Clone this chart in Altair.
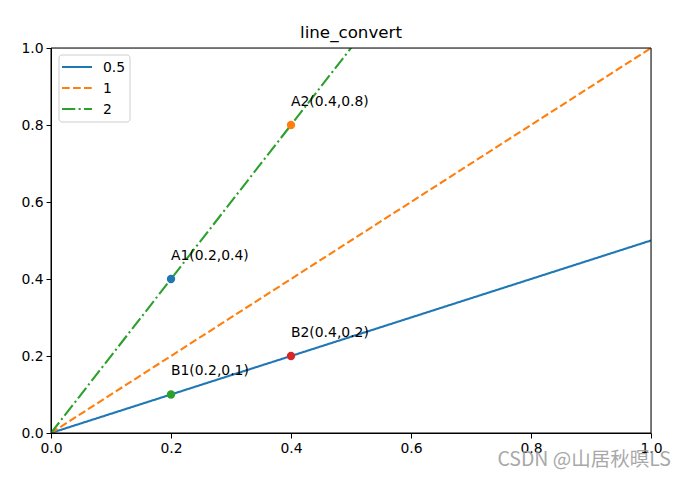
import altair as alt
import pandas as pd

# data
series_names = ["0.5", "1", "2"]
line_x = [0.0, 1.0]
line_y = {"0.5": [0.0, 0.5], "1": [0.0, 1.0], "2": [0.0, 2.0]}
series_colors = ["#1f77b4", "#ff7f0e", "#2ca02c"]
series_dashes = [[1, 0], [7.7, 3.3], [13.3, 3.3, 2.1, 3.3]]

pt_labels = ["A1(0.2,0.4)", "A2(0.4,0.8)", "B1(0.2,0.1)", "B2(0.4,0.2)"]
pt_x = [0.2, 0.4, 0.2, 0.4]
pt_y = [0.4, 0.8, 0.1, 0.2]
pt_colors = ["#1f77b4", "#ff7f0e", "#2ca02c", "#d62728"]
txt_x = [0.2, 0.4, 0.2, 0.4]
txt_y = [0.45, 0.85, 0.15, 0.25]

ticks = [0.0, 0.2, 0.4, 0.6, 0.8, 1.0]

rows = []
for i, s in enumerate(series_names):
    for xv, yv in zip(line_x, line_y[s]):
        rows.append({"series": s, "order": i, "x": xv, "y": yv})
lines_df = pd.DataFrame(rows)
pts_df = pd.DataFrame({"label": pt_labels, "x": pt_x, "y": pt_y, "c": pt_colors,
                       "tx": txt_x, "ty": txt_y})

W, H = 600, 385
FONT = "DejaVu Sans"

xs = alt.Scale(domain=[0, 1], nice=False, zero=False)
ys = alt.Scale(domain=[0, 1], nice=False, zero=False)
xax = alt.Axis(values=ticks, format=".1f", title=None, grid=False, tickSize=5,
               domainColor="black", tickColor="black", labelColor="black",
               labelFontSize=13.9, labelFont=FONT, labelPadding=3, labelFlush=False)
yax = alt.Axis(values=ticks, format=".1f", title=None, grid=False, tickSize=5,
               domainColor="black", tickColor="black", labelColor="black",
               labelFontSize=13.9, labelFont=FONT, labelPadding=3, labelFlush=False)

lines = alt.Chart(lines_df).mark_line(strokeWidth=2.1, clip=True).encode(
    x=alt.X("x:Q", scale=xs, axis=xax),
    y=alt.Y("y:Q", scale=ys, axis=yax),
    detail="series:N",
    color=alt.Color("series:N", scale=alt.Scale(domain=series_names, range=series_colors),
                    legend=None),
    strokeDash=alt.StrokeDash("series:N",
                              scale=alt.Scale(domain=series_names, range=series_dashes),
                              legend=None),
)

points = alt.Chart(pts_df).mark_point(filled=True, opacity=1, size=70, shape="circle").encode(
    x=alt.X("x:Q", scale=xs),
    y=alt.Y("y:Q", scale=ys),
    color=alt.Color("c:N", scale=None),
)

texts = alt.Chart(pts_df).mark_text(align="left", baseline="alphabetic", fontSize=13.9,
                                    font=FONT, color="black").encode(
    x=alt.X("tx:Q", scale=xs),
    y=alt.Y("ty:Q", scale=ys),
    text="label:N",
)

one = pd.DataFrame({"k": [0]})
frame = alt.Chart(one).mark_rect(
    fill=None, stroke="black", strokeWidth=1, fillOpacity=0
).encode(x=alt.value(0), x2=alt.value(W), y=alt.value(0), y2=alt.value(H))

# legend (drawn manually, matplotlib style)
legend_layers = [
    alt.Chart(one).mark_rect(fill="white", stroke="#cccccc", strokeWidth=1, cornerRadius=3,
                             opacity=0.95).encode(
        x=alt.value(8), x2=alt.value(79), y=alt.value(7), y2=alt.value(74))
]
for i, (s, c, d) in enumerate(zip(series_names, series_colors, series_dashes)):
    yy = 19 + 21 * i
    legend_layers.append(
        alt.Chart(one).mark_rule(color=c, strokeWidth=2.1, strokeDash=d).encode(
            x=alt.value(11), x2=alt.value(41), y=alt.value(yy)))
    legend_layers.append(
        alt.Chart(one).mark_text(align="left", baseline="middle", fontSize=13.9, font=FONT,
                                 color="black", text=s).encode(
            x=alt.value(52), y=alt.value(yy + 1)))

watermark = alt.Chart(pd.DataFrame({"t": ["CSDN @山居秋暝LS"]})).mark_text(
    align="right", baseline="middle", fontSize=19.5, font="Noto Sans CJK SC",
    color="#999999", opacity=0.85
).encode(x=alt.value(620), y=alt.value(412), text="t:N")

chart = alt.layer(lines, points, texts, frame, *legend_layers, watermark).resolve_scale(
    color="independent").properties(
    width=W, height=H,
    title=alt.TitleParams("line_convert", fontSize=16.7, font=FONT, fontWeight="normal",
                          color="black", anchor="middle", offset=-1),
    autosize=alt.AutoSizeParams(type="none"),
    padding={"left": 51, "top": 48, "right": 35, "bottom": 47},
).configure_view(stroke=None).configure(background="white")

chart.save("out.html", embed_options={"renderer": "svg", "actions": False})
